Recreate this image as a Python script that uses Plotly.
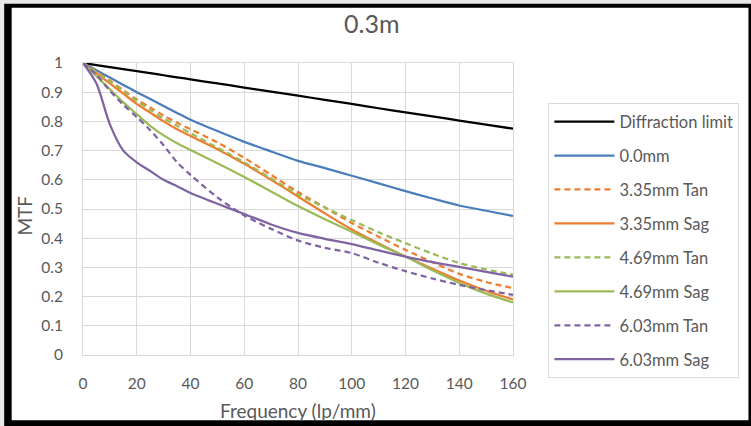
import plotly.graph_objects as go

freq = [0, 5, 10, 15, 20, 25, 30, 35, 40, 50, 60, 70, 80, 90, 100, 110, 120, 130, 140, 150, 160]

diffraction_limit = [1, 0.993, 0.986, 0.979, 0.972, 0.965, 0.958, 0.951, 0.944, 0.93, 0.916, 0.902, 0.888, 0.874, 0.86, 0.845, 0.831, 0.817, 0.803, 0.789, 0.775]
field_0_0 = [1, 0.975, 0.95, 0.925, 0.9, 0.877, 0.853, 0.829, 0.806, 0.767, 0.73, 0.697, 0.665, 0.64, 0.614, 0.588, 0.561, 0.536, 0.512, 0.494, 0.476]
field_335_tan = [1, 0.97, 0.94, 0.907, 0.875, 0.848, 0.82, 0.795, 0.773, 0.728, 0.675, 0.617, 0.558, 0.505, 0.452, 0.405, 0.36, 0.318, 0.278, 0.25, 0.229]
field_335_sag = [1, 0.965, 0.93, 0.895, 0.86, 0.83, 0.8, 0.773, 0.75, 0.705, 0.655, 0.6, 0.543, 0.485, 0.43, 0.382, 0.337, 0.295, 0.255, 0.22, 0.19]
field_469_tan = [1, 0.968, 0.936, 0.903, 0.87, 0.84, 0.81, 0.785, 0.76, 0.71, 0.66, 0.605, 0.55, 0.505, 0.462, 0.42, 0.383, 0.347, 0.315, 0.293, 0.275]
field_469_sag = [1, 0.955, 0.91, 0.865, 0.825, 0.785, 0.752, 0.725, 0.702, 0.657, 0.61, 0.56, 0.51, 0.465, 0.422, 0.378, 0.337, 0.29, 0.247, 0.21, 0.18]
field_603_tan = [1, 0.96, 0.905, 0.857, 0.815, 0.77, 0.718, 0.66, 0.617, 0.54, 0.478, 0.432, 0.392, 0.367, 0.349, 0.316, 0.287, 0.262, 0.24, 0.222, 0.206]
field_603_sag = [1, 0.93, 0.79, 0.7, 0.66, 0.63, 0.6, 0.578, 0.555, 0.518, 0.483, 0.447, 0.418, 0.398, 0.38, 0.358, 0.337, 0.318, 0.302, 0.285, 0.268]

series_names = ["Diffraction limit", "0.0mm", "3.35mm Tan", "3.35mm Sag", "4.69mm Tan", "4.69mm Sag", "6.03mm Tan", "6.03mm Sag"]
series_values = [diffraction_limit, field_0_0, field_335_tan, field_335_sag, field_469_tan, field_469_sag, field_603_tan, field_603_sag]
series_colors = ["#000000", "#4A7EBB", "#ED7D31", "#ED7D31", "#9BBB59", "#9BBB59", "#8064A2", "#8064A2"]
series_dash = ["solid", "solid", "6px,4px", "solid", "6px,4px", "solid", "6px,4px", "solid"]

x_ticks = [0, 20, 40, 60, 80, 100, 120, 140, 160]
y_ticks = [0, 0.1, 0.2, 0.3, 0.4, 0.5, 0.6, 0.7, 0.8, 0.9, 1]

W, H = 751, 426
L, R, T, B = 82.5, 237.5, 62.5, 70.5
PW, PH = W - L - R, H - T - B


def px(x):
    return (x - L) / PW


def py(y):
    return (H - B - y) / PH


FONT = "Lato, 'Open Sans', sans-serif"
GREY = "#595959"

fig = go.Figure()
for i, (name, vals, col, dash) in enumerate(zip(series_names, series_values, series_colors, series_dash)):
    fig.add_trace(go.Scatter(
        x=freq, y=vals, name=name, mode="lines",
        line=dict(color=col, width=2.25, dash=dash, shape="spline", smoothing=0.8),
        legendgroup=str(i),
    ))

fig.update_layout(
    width=W, height=H,
    margin=dict(l=L, r=R, t=T, b=B),
    paper_bgcolor="#e8e8e8",
    plot_bgcolor="rgba(0,0,0,0)",
    font=dict(family=FONT, color=GREY, size=15.5),
    showlegend=True,
    legend=dict(
        x=px(549), y=py(103), xanchor="left", yanchor="top",
        bordercolor="#d9d9d9", borderwidth=1, bgcolor="white",
        font=dict(family=FONT, size=16.5, color=GREY),
        tracegroupgap=9.5, itemwidth=60,
    ),
    shapes=[
        dict(type="rect", xref="paper", yref="paper", x0=px(3.5), x1=px(760), y0=py(3), y1=py(430),
             fillcolor="black", line=dict(width=0), layer="below"),
        dict(type="rect", xref="paper", yref="paper", x0=px(11), x1=px(749.5), y0=py(7), y1=py(421),
             fillcolor="white", line=dict(width=0), layer="below"),
    ],
    annotations=[
        dict(text="0.3m", xref="paper", yref="paper", x=px(372), y=py(22), showarrow=False,
             font=dict(family=FONT, size=25, color=GREY), xanchor="center", yanchor="middle"),
        dict(text="MTF", xref="paper", yref="paper", x=px(24), y=py(216), showarrow=False, textangle=-90,
             font=dict(family=FONT, size=19, color=GREY), xanchor="center", yanchor="middle"),
        dict(text="Frequency (lp/mm)", xref="paper", yref="paper", x=px(298), y=py(411), showarrow=False,
             font=dict(family=FONT, size=19, color=GREY), xanchor="center", yanchor="middle"),
    ],
)
fig.update_xaxes(
    range=[0, 160], tickvals=x_ticks, ticktext=[str(v) for v in x_ticks],
    showgrid=True, gridcolor="#d9d9d9", gridwidth=1,
    showline=True, linecolor="#d9d9d9", linewidth=1, mirror=True,
    zeroline=False, ticks="", ticklabelstandoff=14,
)
fig.update_yaxes(
    range=[0, 1], tickvals=y_ticks, ticktext=[("%g" % v) for v in y_ticks],
    showgrid=True, gridcolor="#d9d9d9", gridwidth=1,
    showline=True, linecolor="#d9d9d9", linewidth=1, mirror=True,
    zeroline=False, ticks="", ticklabelstandoff=16,
)

fig.write_html(
    "out.html",
    config={"displayModeBar": False},
    post_script="document.body.style.margin='0px';document.body.style.padding='0px';",
)
